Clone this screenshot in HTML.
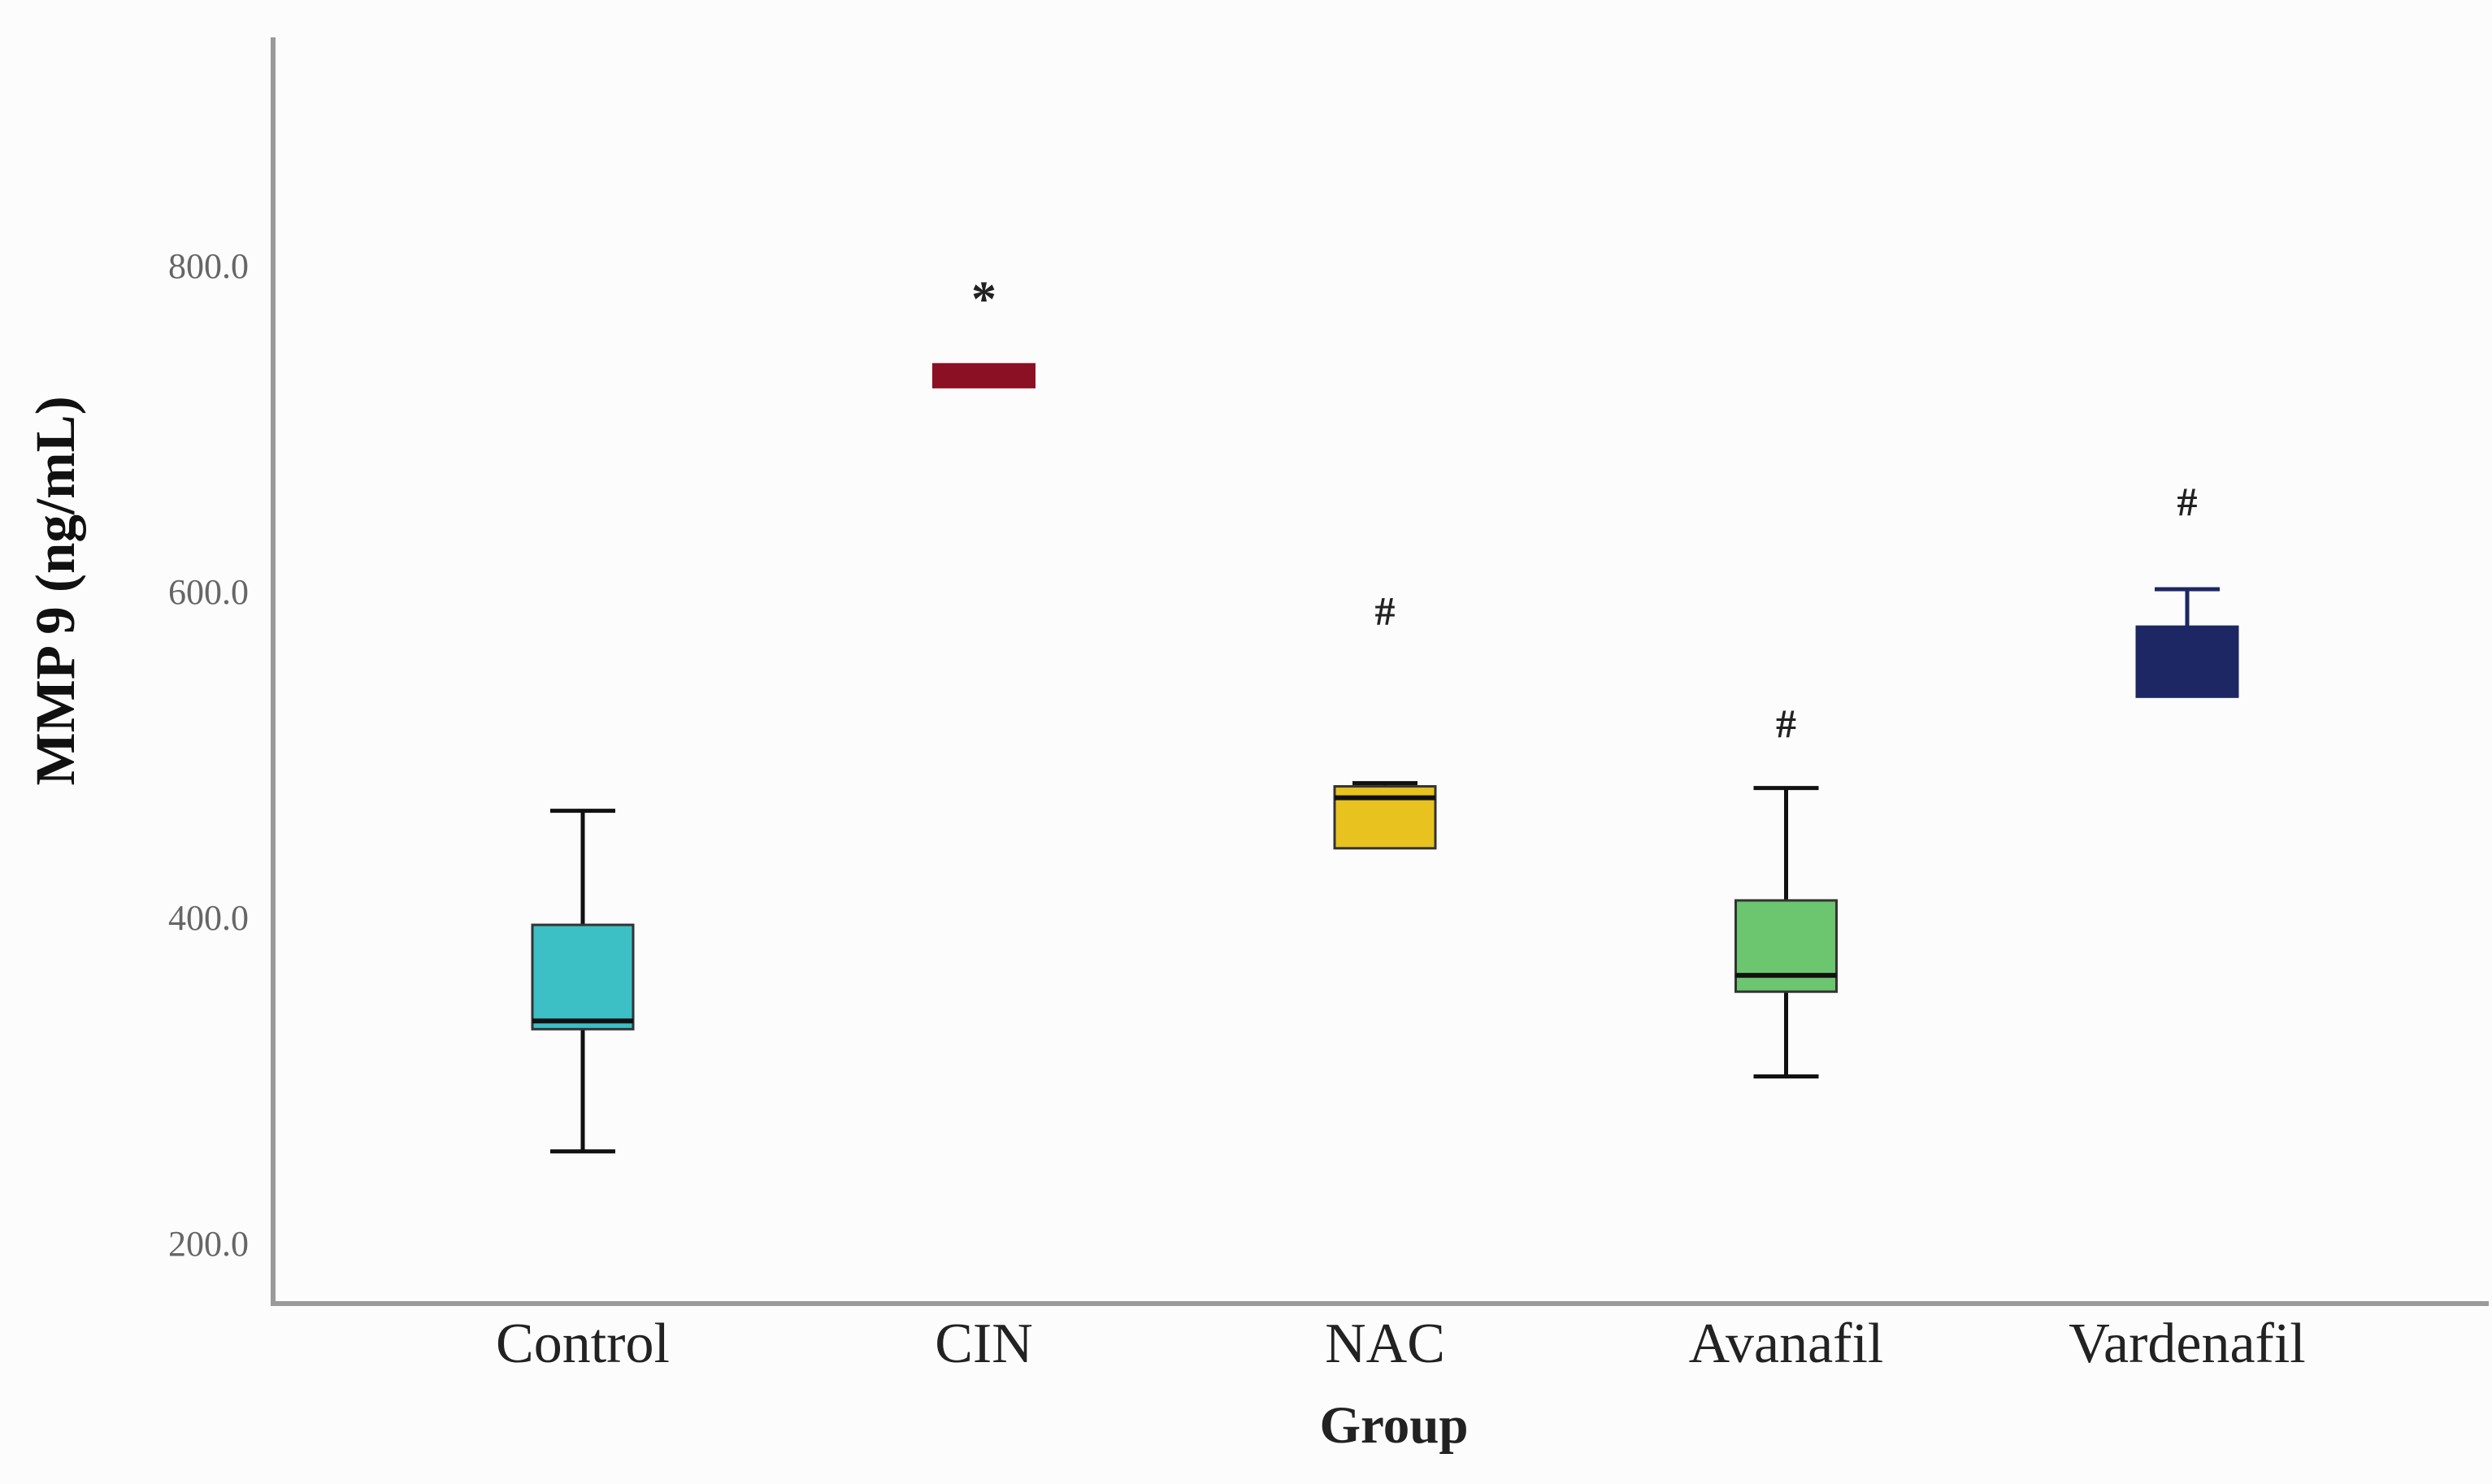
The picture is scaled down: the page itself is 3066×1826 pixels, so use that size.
<!DOCTYPE html>
<html><head><meta charset="utf-8"><style>
html,body{margin:0;padding:0;background:#fcfcfc;}
svg{display:block;font-family:"Liberation Serif",serif;}
</style></head><body>
<svg id="chart" width="3066" height="1826" viewBox="0 0 3066 1826">
<rect width="3066" height="1826" fill="#fcfcfc"/>
<g id="plot"></g>
<text x="75" y="727" transform="rotate(-90 75 727)" text-anchor="middle" dominant-baseline="middle" font-size="69" font-weight="bold" fill="#111">MMP 9 (ng/mL)</text>
<text x="1715" y="1760" text-anchor="middle" dominant-baseline="middle" font-size="65" font-weight="bold" fill="#222">Group</text>
</svg>
<script>
const categories = ["Control","CIN","NAC","Avanafil","Vardenafil"];
const whiskerLow = [259,728,445,305,538];
const q1 = [334,728,445,357,538];
const median = [339,735,476,367,538];
const q3 = [398,742,483,413,581];
const whiskerHigh = [468,742,485,482,604];
const markers = ["","*","#","#","#"];
const markerValues = [0,779,588,519,655];
const colors = ["#3dbfc6","#8b1023","#e8c21e","#6cc56f","#1c2763"];
const yTicks = [200,400,600,800];

const NS="http://www.w3.org/2000/svg";
const g=document.getElementById('plot');
function y(v){return 332+(800-v)*2.005;}
function x(i){return 717+i*493.5;}
function mk(t,a){const e=document.createElementNS(NS,t);for(const k in a)e.setAttribute(k,a[k]);g.appendChild(e);return e;}

let ax=mk('line',{x1:336,y1:46,x2:336,y2:1605,stroke:'#9a9a9a','stroke-width':6});


let bx=mk('line',{x1:333,y1:1604,x2:3062,y2:1604,stroke:'#9a9a9a','stroke-width':6});



yTicks.forEach(v=>{
  const t=mk('text',{x:306,y:y(v),'text-anchor':'end','dominant-baseline':'middle','font-size':44,fill:'#666'});
  t.textContent=v.toFixed(1);
  
  
});

categories.forEach((c,i)=>{
  const cx=x(i), w=124, cap=80;
  const lab=mk('text',{x:cx,y:1660,'text-anchor':'middle','dominant-baseline':'middle','font-size':70,fill:'#222'});
  lab.textContent=c;
  
  
  const sc = i===4? colors[4] : '#111';
  if(whiskerHigh[i]>q3[i]){
    const l=mk('line',{x1:cx,y1:y(whiskerHigh[i]),x2:cx,y2:y(q3[i]),stroke:sc,'stroke-width':5});
    
    
    const cp=mk('line',{x1:cx-cap/2,y1:y(whiskerHigh[i]),x2:cx+cap/2,y2:y(whiskerHigh[i]),stroke:sc,'stroke-width':5});
    
    
  }
  if(whiskerLow[i]<q1[i]){
    const l=mk('line',{x1:cx,y1:y(q1[i]),x2:cx,y2:y(whiskerLow[i]),stroke:sc,'stroke-width':5});
    
    
    const cp=mk('line',{x1:cx-cap/2,y1:y(whiskerLow[i]),x2:cx+cap/2,y2:y(whiskerLow[i]),stroke:sc,'stroke-width':5});
    
    
  }
  const b=mk('rect',{x:cx-w/2,y:y(q3[i]),width:w,height:y(q1[i])-y(q3[i]),fill:colors[i],stroke:(i===1||i===4)?colors[i]:'#333','stroke-width':3});
  
  
  if(i!==1 && i!==4){
    const m=mk('line',{x1:cx-w/2,y1:y(median[i]),x2:cx+w/2,y2:y(median[i]),stroke:'#111','stroke-width':6});
    
    
  }
  if(markers[i]){
    const t=mk('text',{x:cx,y:y(markerValues[i]),'text-anchor':'middle','dominant-baseline':'middle','font-size':markers[i]==='*'?62:50,'font-weight':'bold',fill:'#222'});
    t.textContent=markers[i];
    
    
  }
});
</script>
</body></html>
